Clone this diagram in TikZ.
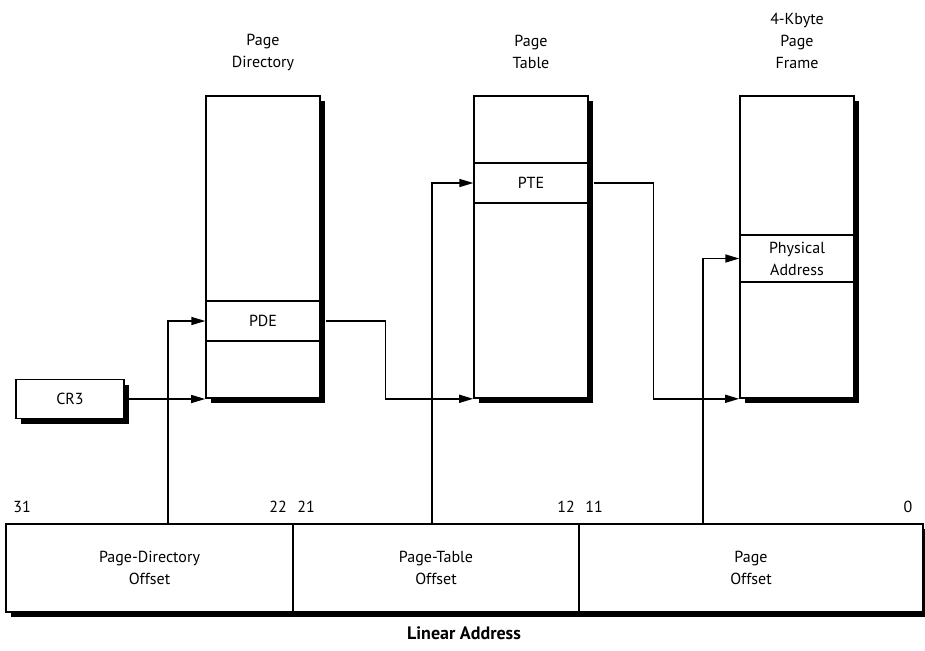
\documentclass[tikz,border=0pt]{standalone}
\usepackage{fontspec}
\setmainfont{PT Sans}
\usetikzlibrary{arrows.meta,shadows,positioning}
\tikzset{
  shd/.style={drop shadow={shadow xshift=5pt, shadow yshift=-5pt, fill=black, opacity=1}},
  tbl/.style={draw, line width=1.6pt, fill=white, minimum width=114pt, minimum height=302pt, shd},
  entry/.style={draw, line width=1.3pt, minimum width=114pt, align=center, inner sep=0pt},
  reg/.style={draw, line width=1.6pt, fill=white, align=center, shd},
  link/.style={->, line width=1.4pt},
}
\begin{document}
\begin{tikzpicture}[x=1pt, y=-1pt, font=\fontsize{16}{22}\selectfont,
  >={Triangle[length=14pt,width=8pt]}]
\useasboundingbox (0,0) rectangle (925,650);

% the three tables
\node[tbl] (pd) at (263,247) {};
\node[tbl] (pt) at (531,247) {};
\node[tbl] (pf) at (797,247) {};

% selected entries
\node[entry, minimum height=40pt] (pde) at (263,321) {PDE};
\node[entry, minimum height=40pt] (pte) at (531,183) {PTE};
\node[entry, minimum height=47pt] (pa) at (797,258.5) {Physical\\Address};

% titles
\node[align=center] (pdlbl) at (263,52) {Page\\Directory};
\node[align=center] (ptlbl) at (531,52) {Page\\Table};
\node[align=center] (pflbl) at (797,41) {4-Kbyte\\Page\\Frame};

% CR3
\node[reg, minimum width=108pt, minimum height=39pt] (cr3) at (70,399) {CR3};

% linear address fields
\node[reg, minimum width=287pt, minimum height=88pt] (lapd) at (149.5,568) {Page-Directory\\Offset};
\node[reg, minimum width=286pt, minimum height=88pt] (lapt) at (436,568) {Page-Table\\Offset};
\node[reg, minimum width=344pt, minimum height=88pt] (lapo) at (751,568) {Page\\Offset};
\node[font=\fontsize{18}{22}\selectfont\bfseries] (lalbl) at (464,633) {Linear Address};

% bit numbers
\node (b31) at (22,507) {31};
\node (b22) at (278,507) {22};
\node (b21) at (306,507) {21};
\node (b12) at (566,507) {12};
\node (b11) at (594,507) {11};
\node (b0) at (908,507) {0};

% connectors
\draw[link] (cr3.east) -- (cr3.east -| pd.west);
\draw[link] ([xshift=18.5pt]lapd.north) |- (pde.west);
\draw[link] ([xshift=-4pt]lapt.north) |- (pte.west);
\draw[link] ([xshift=-48pt]lapo.north) |- (pa.west);
\draw[link] ([xshift=5pt]pde.east) -- ++(60,0) |- (pt.south west);
\draw[link] ([xshift=5pt]pte.east) -- ++(60,0) |- (pf.south west);
\end{tikzpicture}
\end{document}
